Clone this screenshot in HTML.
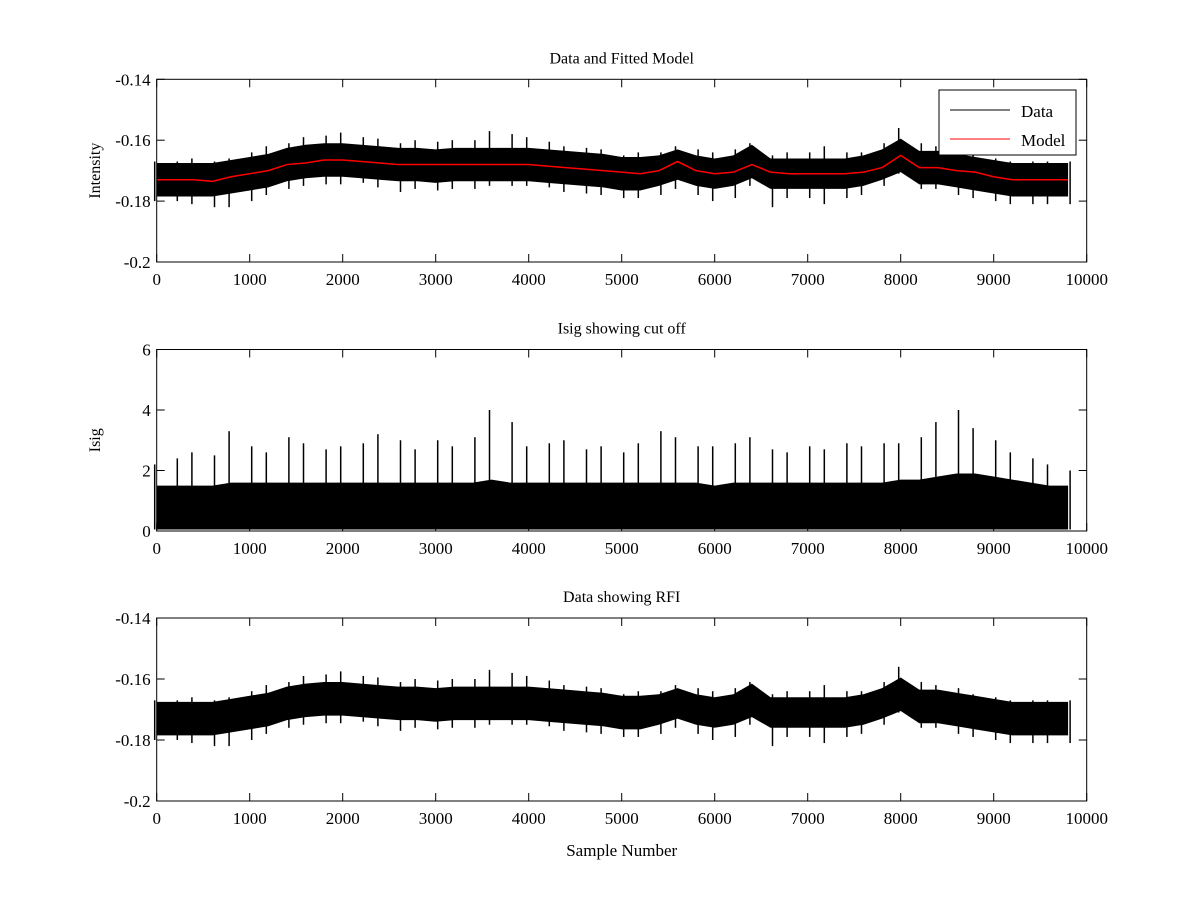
<!DOCTYPE html>
<html><head><meta charset="utf-8"><style>
body{margin:0;background:#fff;}
svg{display:block;font-family:"Liberation Serif",serif;}
</style></head><body>
<svg id="chart" width="1200" height="900" viewBox="0 0 1200 900" xmlns="http://www.w3.org/2000/svg"></svg>
<script>
// ---- data (bins every 200 samples, 0..9800) ----
const binStep = 200;
const binCount = 50;
const dataCenter = [-.173,-.173,-.173,-.173,-.172,-.171,-.170,-.168,-.167,-.1665,-.1665,-.167,-.1675,-.168,-.168,-.1685,-.168,-.168,-.168,-.168,-.168,-.1685,-.169,-.1695,-.170,-.171,-.171,-.170,-.168,-.170,-.171,-.170,-.167,-.171,-.171,-.171,-.171,-.171,-.170,-.168,-.165,-.169,-.169,-.170,-.171,-.172,-.173,-.173,-.173,-.173];
const dataUpper = [.006,.006,.007,.006,.006,.007,.008,.007,.008,.008,.009,.008,.008,.007,.008,.008,.008,.008,.011,.010,.009,.008,.007,.007,.007,.006,.007,.006,.006,.007,.007,.007,.006,.006,.007,.007,.009,.007,.006,.007,.009,.008,.007,.007,.006,.006,.006,.006,.006,.006];
const dataLower = [.007,.007,.008,.009,.010,.009,.008,.008,.008,.008,.008,.007,.008,.009,.008,.008,.008,.008,.007,.007,.007,.007,.008,.008,.008,.008,.008,.008,.008,.008,.009,.009,.008,.011,.008,.008,.010,.008,.008,.007,.006,.007,.007,.008,.008,.008,.008,.008,.008,.008];
const dataCoreHalf = [.0055,.0055,.0055,.0055,.0055,.0055,.0055,.0055,.0055,.0055,.0055,.0055,.0055,.0055,.0055,.0055,.0055,.0055,.0055,.0055,.0055,.0055,.0055,.0055,.0055,.0055,.0055,.0050,.0050,.0050,.0050,.0050,.0055,.0050,.0050,.0050,.0050,.0050,.0050,.0050,.0055,.0055,.0055,.0055,.0055,.0055,.0055,.0055,.0055,.0055];
const modelValues = [-.173,-.173,-.173,-.1735,-.172,-.171,-.170,-.168,-.1675,-.1665,-.1665,-.167,-.1675,-.168,-.168,-.168,-.168,-.168,-.168,-.168,-.168,-.1685,-.169,-.1695,-.170,-.1705,-.171,-.170,-.167,-.170,-.171,-.1705,-.168,-.1705,-.171,-.171,-.171,-.171,-.1705,-.169,-.165,-.169,-.169,-.170,-.1705,-.172,-.173,-.173,-.173,-.173];
const isigMax = [2.2,2.4,2.6,2.5,3.3,2.8,2.6,3.1,2.9,2.7,2.8,2.9,3.2,3.0,2.7,3.0,2.8,3.1,4.0,3.6,2.8,2.9,3.0,2.7,2.8,2.6,2.9,3.3,3.1,2.8,2.8,2.9,3.1,2.7,2.6,2.8,2.7,2.9,2.8,2.9,2.9,3.1,3.6,4.0,3.4,3.0,2.6,2.4,2.2,2.0];
const isigBase = [1.5,1.5,1.5,1.5,1.6,1.6,1.6,1.6,1.6,1.6,1.6,1.6,1.6,1.6,1.6,1.6,1.6,1.6,1.7,1.6,1.6,1.6,1.6,1.6,1.6,1.6,1.6,1.6,1.6,1.6,1.5,1.6,1.6,1.6,1.6,1.6,1.6,1.6,1.6,1.6,1.7,1.7,1.8,1.9,1.9,1.8,1.7,1.6,1.5,1.5];
const xTicks = [0,1000,2000,3000,4000,5000,6000,7000,8000,9000,10000];
const intensityTicks = [-0.14,-0.16,-0.18,-0.2];
const isigTicks = [0,2,4,6];
const lastSample = 9850;

const NS="http://www.w3.org/2000/svg";
const svg=document.getElementById('chart');
function mk(tag,attrs,parent){const e=document.createElementNS(NS,tag);for(const k in attrs)e.setAttribute(k,attrs[k]);(parent||svg).appendChild(e);return e;}
const L=156.7,R=1086.7;
const xs=v=>L+(v/10000)*(R-L);
const sampleX=i=>Math.min(i*binStep,lastSample);

function axes(top,bot,ymin,ymax,yt,title,ylabel,name){
  const g=mk('g',{});
  
  
  const ys=v=>bot-(v-ymin)/(ymax-ymin)*(bot-top);
  return {g,ys,finish:()=>{
    const fr=mk('rect',{x:L,y:top,width:R-L,height:bot-top,fill:'none',stroke:'#000','stroke-width':1},g);
    
    xTicks.forEach(t=>{const x=xs(t);
      mk('line',{x1:x,x2:x,y1:bot,y2:bot-8,stroke:'#000'},g);
      mk('line',{x1:x,x2:x,y1:top,y2:top+8,stroke:'#000'},g);
      const tx=mk('text',{x:x,y:bot+23,'text-anchor':'middle','font-size':17},g);tx.textContent=t;
      });
    yt.forEach(t=>{const y=ys(t);
      mk('line',{x1:L,x2:L+8,y1:y,y2:y,stroke:'#000'},g);
      mk('line',{x1:R,x2:R-8,y1:y,y2:y,stroke:'#000'},g);
      const tx=mk('text',{x:L-6,y:y+6,'text-anchor':'end','font-size':17},g);tx.textContent=t;
      });
    const ti=mk('text',{x:(L+R)/2,y:top-16,'text-anchor':'middle','font-size':16},g);ti.textContent=title;
    
    if(ylabel){const yl=mk('text',{x:0,y:0,'text-anchor':'middle','font-size':16,transform:`translate(100,${(top+bot)/2}) rotate(-90)`},g);yl.textContent=ylabel;
      }
  }};
}
function band(ax,up,lo,name){
  let pts=[];
  for(let i=0;i<binCount;i++){pts.push(xs(sampleX(i))+','+ax.ys(up(i)));}
  for(let i=binCount-1;i>=0;i--){pts.push(xs(sampleX(i))+','+ax.ys(lo(i)));}
  const p=mk('polygon',{points:pts.join(' '),fill:'#000',stroke:'none'},ax.g);
  
}
function spikes(ax,up,lo,name){
  for(let i=0;i<binCount;i++){
    const x=xs(sampleX(i))+ (i%2?2:-2);
    const s=mk('line',{x1:x,x2:x,y1:ax.ys(up(i)),y2:ax.ys(lo(i)),stroke:'#000','stroke-width':1.5},ax.g);
    
  }
}
// Plot 1
const a1=axes(79.3,262,-0.2,-0.14,intensityTicks,'Data and Fitted Model','Intensity','data-model-panel');
band(a1,i=>dataCenter[i]+dataCoreHalf[i],i=>dataCenter[i]-dataCoreHalf[i],'data-series');
spikes(a1,i=>dataCenter[i]+dataUpper[i],i=>dataCenter[i]-dataLower[i],'data-spike');
const mp=mk('polyline',{points:modelValues.map((v,i)=>xs(sampleX(i))+','+a1.ys(v)).join(' '),fill:'none',stroke:'#f00','stroke-width':1.5},a1.g);

a1.finish();
// legend
const lg=mk('g',{});
mk('rect',{x:939,y:90,width:137,height:65,fill:'#fff',stroke:'#000'},lg);
mk('line',{x1:950,x2:1010,y1:110,y2:110,stroke:'#000'},lg);
mk('line',{x1:950,x2:1010,y1:139,y2:139,stroke:'#f00'},lg);
let t=mk('text',{x:1021,y:117,'font-size':17},lg);t.textContent='Data';
t=mk('text',{x:1021,y:146,'font-size':17},lg);t.textContent='Model';
// Plot 2
const a2=axes(349.5,531,0,6,isigTicks,'Isig showing cut off','Isig','isig-panel');
band(a2,i=>isigBase[i],i=>0.05,'isig-series');
spikes(a2,i=>isigMax[i],i=>0.05,'isig-spike');
a2.finish();
// Plot 3
const a3=axes(618,801,-0.2,-0.14,intensityTicks,'Data showing RFI',null,'rfi-panel');
band(a3,i=>dataCenter[i]+dataCoreHalf[i],i=>dataCenter[i]-dataCoreHalf[i],'rfi-data-series');
spikes(a3,i=>dataCenter[i]+dataUpper[i],i=>dataCenter[i]-dataLower[i],'rfi-data-spike');
a3.finish();
const xl=mk('text',{x:(L+R)/2,y:856,'text-anchor':'middle','font-size':17});xl.textContent='Sample Number';

</script>
</body></html>
